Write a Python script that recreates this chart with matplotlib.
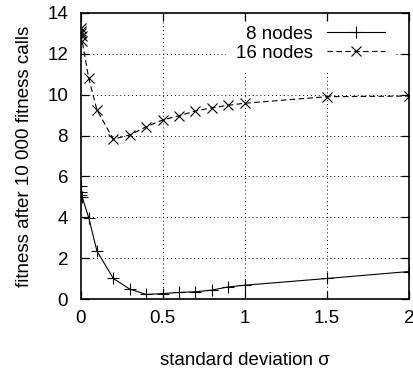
import matplotlib
matplotlib.use("Agg")
import matplotlib.pyplot as plt

plt.rcParams['font.family'] = ['Liberation Sans', 'DejaVu Sans']

sigma_8 = [0.0, 0.002, 0.005, 0.01, 0.05, 0.1, 0.2, 0.3, 0.4, 0.5, 0.6, 0.7, 0.8, 0.9, 1.0, 1.5, 2.0]
fit_8 = [5.55, 5.25, 5.1, 5.0, 3.98, 2.35, 1.01, 0.49, 0.23, 0.27, 0.33, 0.36, 0.44, 0.6, 0.68, 1.01, 1.35]

sigma_16 = [0.0, 0.002, 0.005, 0.008, 0.01, 0.05, 0.1, 0.2, 0.3, 0.4, 0.5, 0.6, 0.7, 0.8, 0.9, 1.0, 1.5, 2.0]
fit_16 = [13.1, 13.25, 13.0, 12.85, 12.6, 10.8, 9.25, 7.82, 8.03, 8.43, 8.76, 8.97, 9.2, 9.36, 9.48, 9.58, 9.9, 9.93]

xticks = [0, 0.5, 1, 1.5, 2]
xticklabels = ['0', '0.5', '1', '1.5', '2']
yticks = [0, 2, 4, 6, 8, 10, 12, 14]

fig = plt.figure(figsize=(4.13, 3.89), dpi=100)
ax = fig.add_axes([0.195, 0.231, 0.795, 0.736])

grid_style = dict(color='black', linewidth=0.7, linestyle=(0, (1, 3)), zorder=1)
for yv in yticks[1:-1]:
    ax.axhline(yv, **grid_style)
for xv in xticks[1:-1]:
    ax.axvline(xv, **grid_style)

ax.plot(sigma_8, fit_8, color='black', linewidth=0.8, marker='+', markersize=8,
        markeredgewidth=0.8, label='8 nodes', zorder=2)
ax.plot(sigma_16, fit_16, color='black', linewidth=0.8, linestyle=(0, (5, 3)),
        marker='x', markersize=7, markeredgewidth=0.8, label='16 nodes', zorder=2)

ax.set_xlim(0, 2)
ax.set_ylim(0, 14)
ax.set_xticks(xticks)
ax.set_xticklabels(xticklabels)
ax.set_yticks(yticks)
ax.set_axisbelow(False)
ax.tick_params(direction='in', top=True, right=True, length=6, width=0.9,
               labelsize=13.5, colors='black')
ax.tick_params(axis='x', pad=8)
ax.tick_params(axis='y', pad=9)
for s in ax.spines.values():
    s.set_linewidth(1.2)

ax.set_xlabel('standard deviation σ', fontsize=13.5, labelpad=18)
ax.set_ylabel('fitness after 10 000 fitness calls', fontsize=13.5, labelpad=10)

leg = ax.legend(loc='upper right', bbox_to_anchor=(0.955, 0.987), frameon=True,
                fontsize=13.5, markerfirst=False,
                handlelength=3.1, borderaxespad=0.0, labelspacing=0.1,
                handletextpad=0.75, borderpad=0.5)
leg.get_frame().set_facecolor('white')
leg.get_frame().set_edgecolor('none')
leg.get_frame().set_alpha(1.0)
leg.set_zorder(2.2)
for t in leg.get_texts():
    t.set_ha('right')

fig.savefig('out.png', dpi=100)
